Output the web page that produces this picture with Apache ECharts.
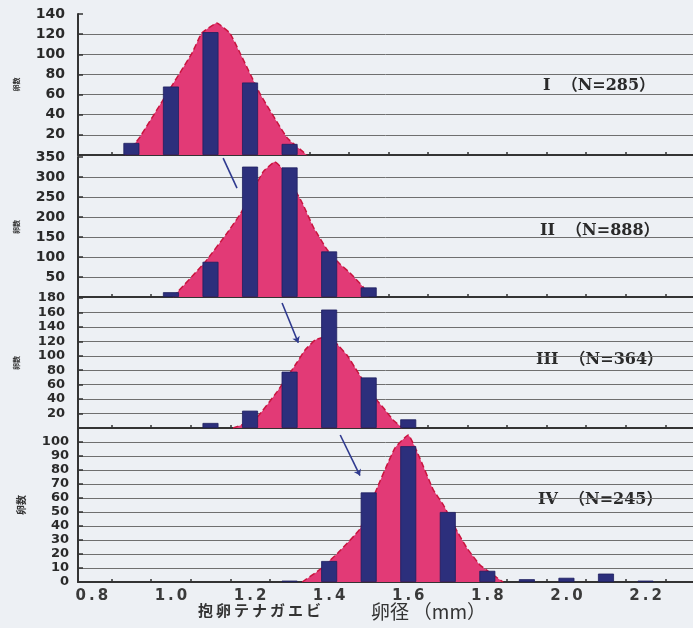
<!DOCTYPE html>
<html><head><meta charset="utf-8">
<script src="https://cdn.jsdelivr.net/npm/echarts@6/dist/echarts.min.js"></script>
<style>html,body{margin:0;padding:0;background:#edf0f4}#c{width:693px;height:628px}</style>
</head><body><div id="c"></div>
<script>
// ---- data ----
const xLabelValues = [0.8, 1.0, 1.2, 1.4, 1.6, 1.8, 2.0, 2.2];
const xTickValues = [0.85, 0.95, 1.05, 1.15, 1.25, 1.35, 1.45, 1.55, 1.65, 1.75, 1.85, 1.95, 2.05, 2.15, 2.25];

const bins1 = [0.9, 1.0, 1.1, 1.2, 1.3];
const counts1 = [12, 68, 122, 72, 11];
const bins2 = [1.0, 1.1, 1.2, 1.3, 1.4, 1.5];
const counts2 = [12, 88, 326, 324, 114, 24];
const bins3 = [1.1, 1.2, 1.3, 1.4, 1.5, 1.6];
const counts3 = [7, 24, 78, 164, 70, 12];
const bins4 = [1.3, 1.4, 1.5, 1.6, 1.7, 1.8, 1.9, 2.0, 2.1, 2.2];
const counts4 = [1, 15, 64, 97, 50, 8, 2, 3, 6, 1];

const curve1X = [0.884, 0.92, 0.99, 1.053, 1.078, 1.116, 1.149, 1.175, 1.225, 1.294, 1.344];
const curve1Y = [0, 17, 61, 101, 121, 131, 121, 101, 61, 17, 0];
const curve2X = [1.005, 1.086, 1.142, 1.177, 1.233, 1.263, 1.284, 1.332, 1.36, 1.395, 1.428, 1.453, 1.486, 1.50];
const curve2Y = [0, 87, 160, 210, 313, 338, 318, 235, 175, 118, 82, 60, 25, 0];
const curve3X = [1.157, 1.213, 1.268, 1.319, 1.339, 1.365, 1.395, 1.415, 1.445, 1.466, 1.509, 1.537, 1.562, 1.585];
const curve3Y = [0, 12, 50, 91, 108, 122, 127, 119, 101, 83, 46, 28, 11, 0];
const curve4X = [1.332, 1.377, 1.423, 1.478, 1.524, 1.547, 1.567, 1.60, 1.63, 1.663, 1.689, 1.724, 1.749, 1.782, 1.82, 1.84];
const curve4Y = [0, 9, 21, 38, 69, 84, 96, 105, 88, 66, 55, 36, 24, 12, 4, 0];

const panelNames = ['I  （N=285）', 'II  （N=888）', 'III  （N=364）', 'IV  （N=245）'];
const yMax = [140, 350, 180, 110];
const yInterval = [20, 50, 20, 10];
const yName = '卵数';
const xName1 = '抱卵テナガエビ';
const xName2 = '卵径\u2009（mm）';

// arrows (data coordinates in the lower panel)
const arrows = [
  null,
  [[1.132, 347], [1.167, 272]],
  [[1.281, 173], [1.322, 118]],
  [[1.428, 105], [1.478, 76]]
];

const binsAll = [bins1, bins2, bins3, bins4];
const countsAll = [counts1, counts2, counts3, counts4];
const curvesX = [curve1X, curve2X, curve3X, curve4X];
const curvesY = [curve1Y, curve2Y, curve3Y, curve4Y];

// ---- layout ----
const grids = [
  {left: 78, right: 0, top: 14, height: 141},
  {left: 78, right: 0, top: 157, height: 140},
  {left: 78, right: 0, top: 298, height: 130},
  {left: 78, right: 0, top: 428, height: 154}
];
const labelY = [87, 232, 361, 501];
const labelX = [543, 540, 536, 538];

const xAxes = [], yAxes = [], series = [];
for (let i = 0; i < 4; i++) {
  xAxes.push({
    type: 'value', gridIndex: i, min: 0.765, max: 2.32,
    axisLine: {show: true, onZero: false, lineStyle: {color: '#333', width: 2}},
    axisTick: {show: true, inside: true, length: 3, customValues: xTickValues, lineStyle: {color: '#333', width: 1.5}},
    splitLine: {show: false},
    axisLabel: {
      show: i === 3, customValues: xLabelValues, margin: 7,
      formatter: v => v.toFixed(1).split('').join('\u2009'),
      fontFamily: 'DejaVu Sans', fontWeight: 'bold', fontSize: 15, color: '#3a3a3a'
    }
  });
  yAxes.push({
    type: 'value', gridIndex: i, min: 0, max: yMax[i], interval: yInterval[i],
    axisLine: {show: true, lineStyle: {color: '#333', width: 2}},
    axisTick: {show: true, inside: true, length: 5, lineStyle: {color: '#333', width: 1.5}},
    splitLine: {show: true, showMaxLine: false, lineStyle: {color: '#6f6f6f', width: 1}},
    axisLabel: {
      showMinLabel: i === 3, showMaxLabel: i !== 3,
      fontFamily: 'DejaVu Sans', fontWeight: 'bold', fontSize: i >= 2 ? 13 : 14,
      color: '#2a2a2a', margin: i === 3 ? 9 : 13
    },
    name: yName, nameLocation: 'middle', nameRotate: 90,
    nameGap: i === 3 ? 52 : 58,
    nameTextStyle: {fontSize: i === 3 ? 10 : 7, fontFamily: 'Noto Sans CJK JP', fontWeight: 'bold', color: '#333'}
  });
  series.push({
    type: 'line', xAxisIndex: i, yAxisIndex: i, z: 1,
    data: curvesX[i].map((x, k) => [x, curvesY[i][k]]),
    smooth: 0.12, symbol: 'none',
    lineStyle: {color: '#c9143f', width: 1.5, type: 'dashed'},
    areaStyle: {color: '#e23a76', opacity: 1},
    silent: true
  });
  const bar = {
    type: 'bar', xAxisIndex: i, yAxisIndex: i, z: 3,
    data: binsAll[i].map((x, k) => [x, countsAll[i][k]]),
    barWidth: 16,
    itemStyle: {color: '#2c2f7c', borderColor: '#1e2060', borderWidth: 0.8},
    silent: true
  };
  if (arrows[i]) {
    bar.markLine = {
      silent: true, symbol: ['none', i === 1 ? 'none' : 'arrow'], symbolSize: 6,
      label: {show: false},
      lineStyle: {color: '#2f3a8f', width: 1.6, type: 'solid'},
      data: [[{coord: arrows[i][0]}, {coord: arrows[i][1]}]]
    };
  }
  series.push(bar);
}

const graphics = panelNames.map((t, i) => ({
  type: 'text', left: labelX[i], top: labelY[i] - 9,
  style: {text: t, font: 'bold 16px "DejaVu Serif", "Noto Sans CJK JP"', fill: '#2a2a2a'}
}));
graphics.push({
  type: 'text', left: 198, top: 603,
  style: {text: xName1.split('').join('\u2009'), font: 'bold 15px "Noto Sans CJK JP"', fill: '#333'}
});
graphics.push({
  type: 'text', left: 371, top: 602,
  style: {text: xName2, font: '19px "Noto Sans CJK JP"', fill: '#333'}
});

const chart = echarts.init(document.getElementById('c'), null, {renderer: 'canvas'});
chart.setOption({
  backgroundColor: '#edf0f4',
  animation: false,
  grid: grids,
  xAxis: xAxes,
  yAxis: yAxes,
  series: series,
  graphic: graphics
});
</script></body></html>
